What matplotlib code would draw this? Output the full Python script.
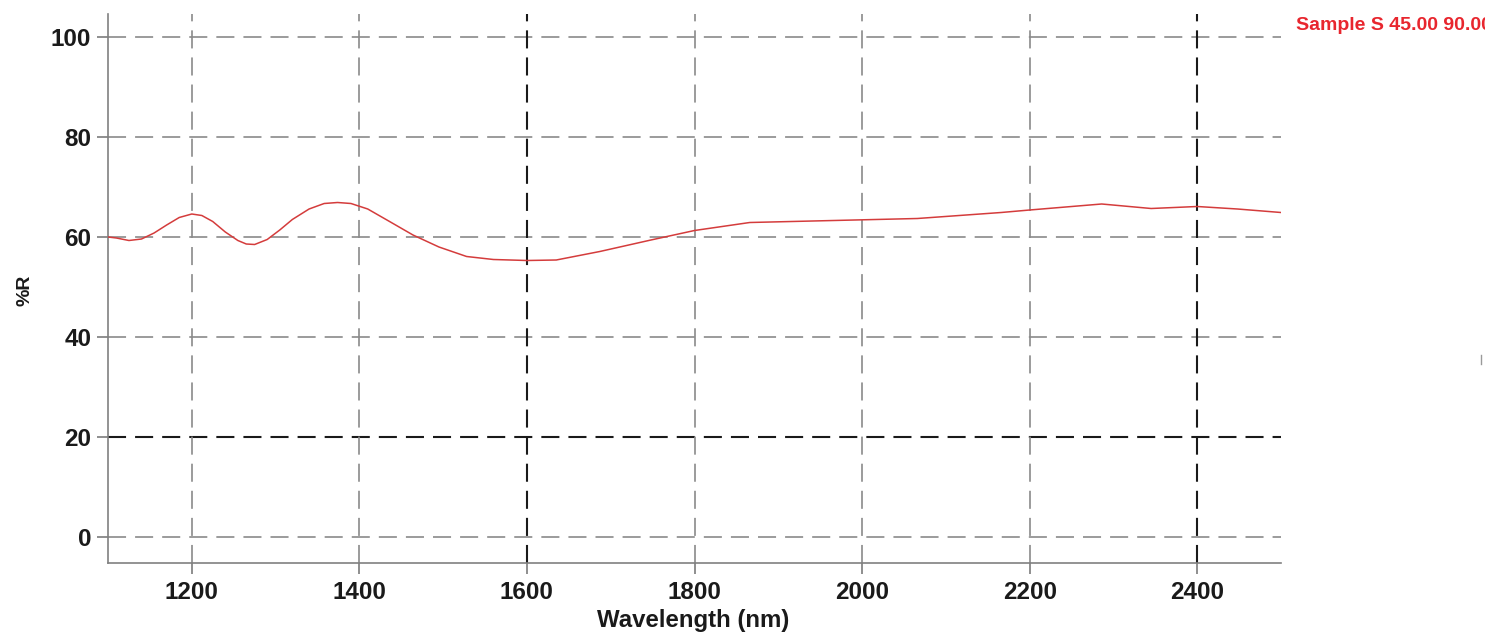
import matplotlib
matplotlib.use("Agg")
import matplotlib.pyplot as plt
from matplotlib.lines import Line2D

wavelength = [1100, 1110, 1125, 1140, 1155, 1170, 1185, 1200, 1212, 1225, 1240, 1255,
              1265, 1275, 1290, 1305, 1320, 1340, 1358, 1374, 1390, 1410, 1435, 1464,
              1495, 1528, 1560, 1600, 1635, 1687, 1748, 1800, 1866, 1966, 2066, 2166,
              2200, 2286, 2345, 2400, 2448, 2500]
reflectance = [60.0, 59.8, 59.3, 59.6, 60.8, 62.4, 63.9, 64.6, 64.3, 63.1, 61.0, 59.3,
               58.6, 58.5, 59.5, 61.4, 63.5, 65.6, 66.7, 66.9, 66.7, 65.6, 63.2, 60.4,
               58.0, 56.1, 55.5, 55.3, 55.4, 57.1, 59.4, 61.3, 62.9, 63.3, 63.7, 64.9,
               65.4, 66.6, 65.7, 66.1, 65.6, 64.9]

x_ticks = [1200, 1400, 1600, 1800, 2000, 2200, 2400]
x_dark = [1600, 2400]
y_ticks = [0, 20, 40, 60, 80, 100]
y_dark = [20]
series_label = "Sample S 45.00 90.00"

plt.rcParams['font.family'] = ['Liberation Sans', 'DejaVu Sans']
plt.rcParams['lines.scale_dashes'] = False

W, H = 1485, 634
fig = plt.figure(figsize=(W / 100, H / 100), dpi=100)
ax = fig.add_axes([108 / W, 1 - 563 / H, (1281 - 108) / W, (563 - 14) / H])

ax.set_xlim(1100, 2500)
ax.set_ylim(-5.2, 104.6)

dash = (0, (13, 6.5))
for yv in y_ticks:
    dark = yv in y_dark
    ax.axhline(yv, color='#1a1a1a' if dark else '#8a8a8a', lw=1.5 if dark else 1.2,
               linestyle=dash, zorder=1)
for xv in x_ticks:
    dark = xv in x_dark
    ax.axvline(xv, color='#1a1a1a' if dark else '#8a8a8a', lw=1.5 if dark else 1.2,
               linestyle=dash, zorder=1)

ax.plot(wavelength, reflectance, color='#d43c3c', lw=1.1, zorder=3)

ax.set_xticks(x_ticks)
ax.set_yticks(y_ticks)
ax.tick_params(axis='both', direction='out', length=8, width=1.1, color='#707070',
               labelsize=17.5, pad=4)
ax.tick_params(axis='x', pad=5)
for lab in ax.get_xticklabels() + ax.get_yticklabels():
    lab.set_fontweight('bold')
    lab.set_color('#1a1a1a')

for s in ['top', 'right']:
    ax.spines[s].set_visible(False)
for s in ['left', 'bottom']:
    ax.spines[s].set_color('#808080')
    ax.spines[s].set_linewidth(1.2)

fig.text(693 / W, 1 - 621 / H, "Wavelength (nm)", ha='center', va='center',
         fontsize=17.3, fontweight='bold', color='#1a1a1a')
fig.text(25 / W, 1 - 290 / H, "%R", ha='center', va='center', rotation=90,
         fontsize=14, fontweight='bold', color='#1a1a1a')
fig.text(1296 / W, 1 - 25 / H, series_label, ha='left', va='center',
         fontsize=14, fontweight='bold', color='#e8262e')

fig.add_artist(Line2D([1481 / W, 1481 / W], [1 - 355 / H, 1 - 364 / H],
                      transform=fig.transFigure, color='#9a9a9a', lw=1))

fig.savefig("out.png", dpi=100, facecolor='white')
